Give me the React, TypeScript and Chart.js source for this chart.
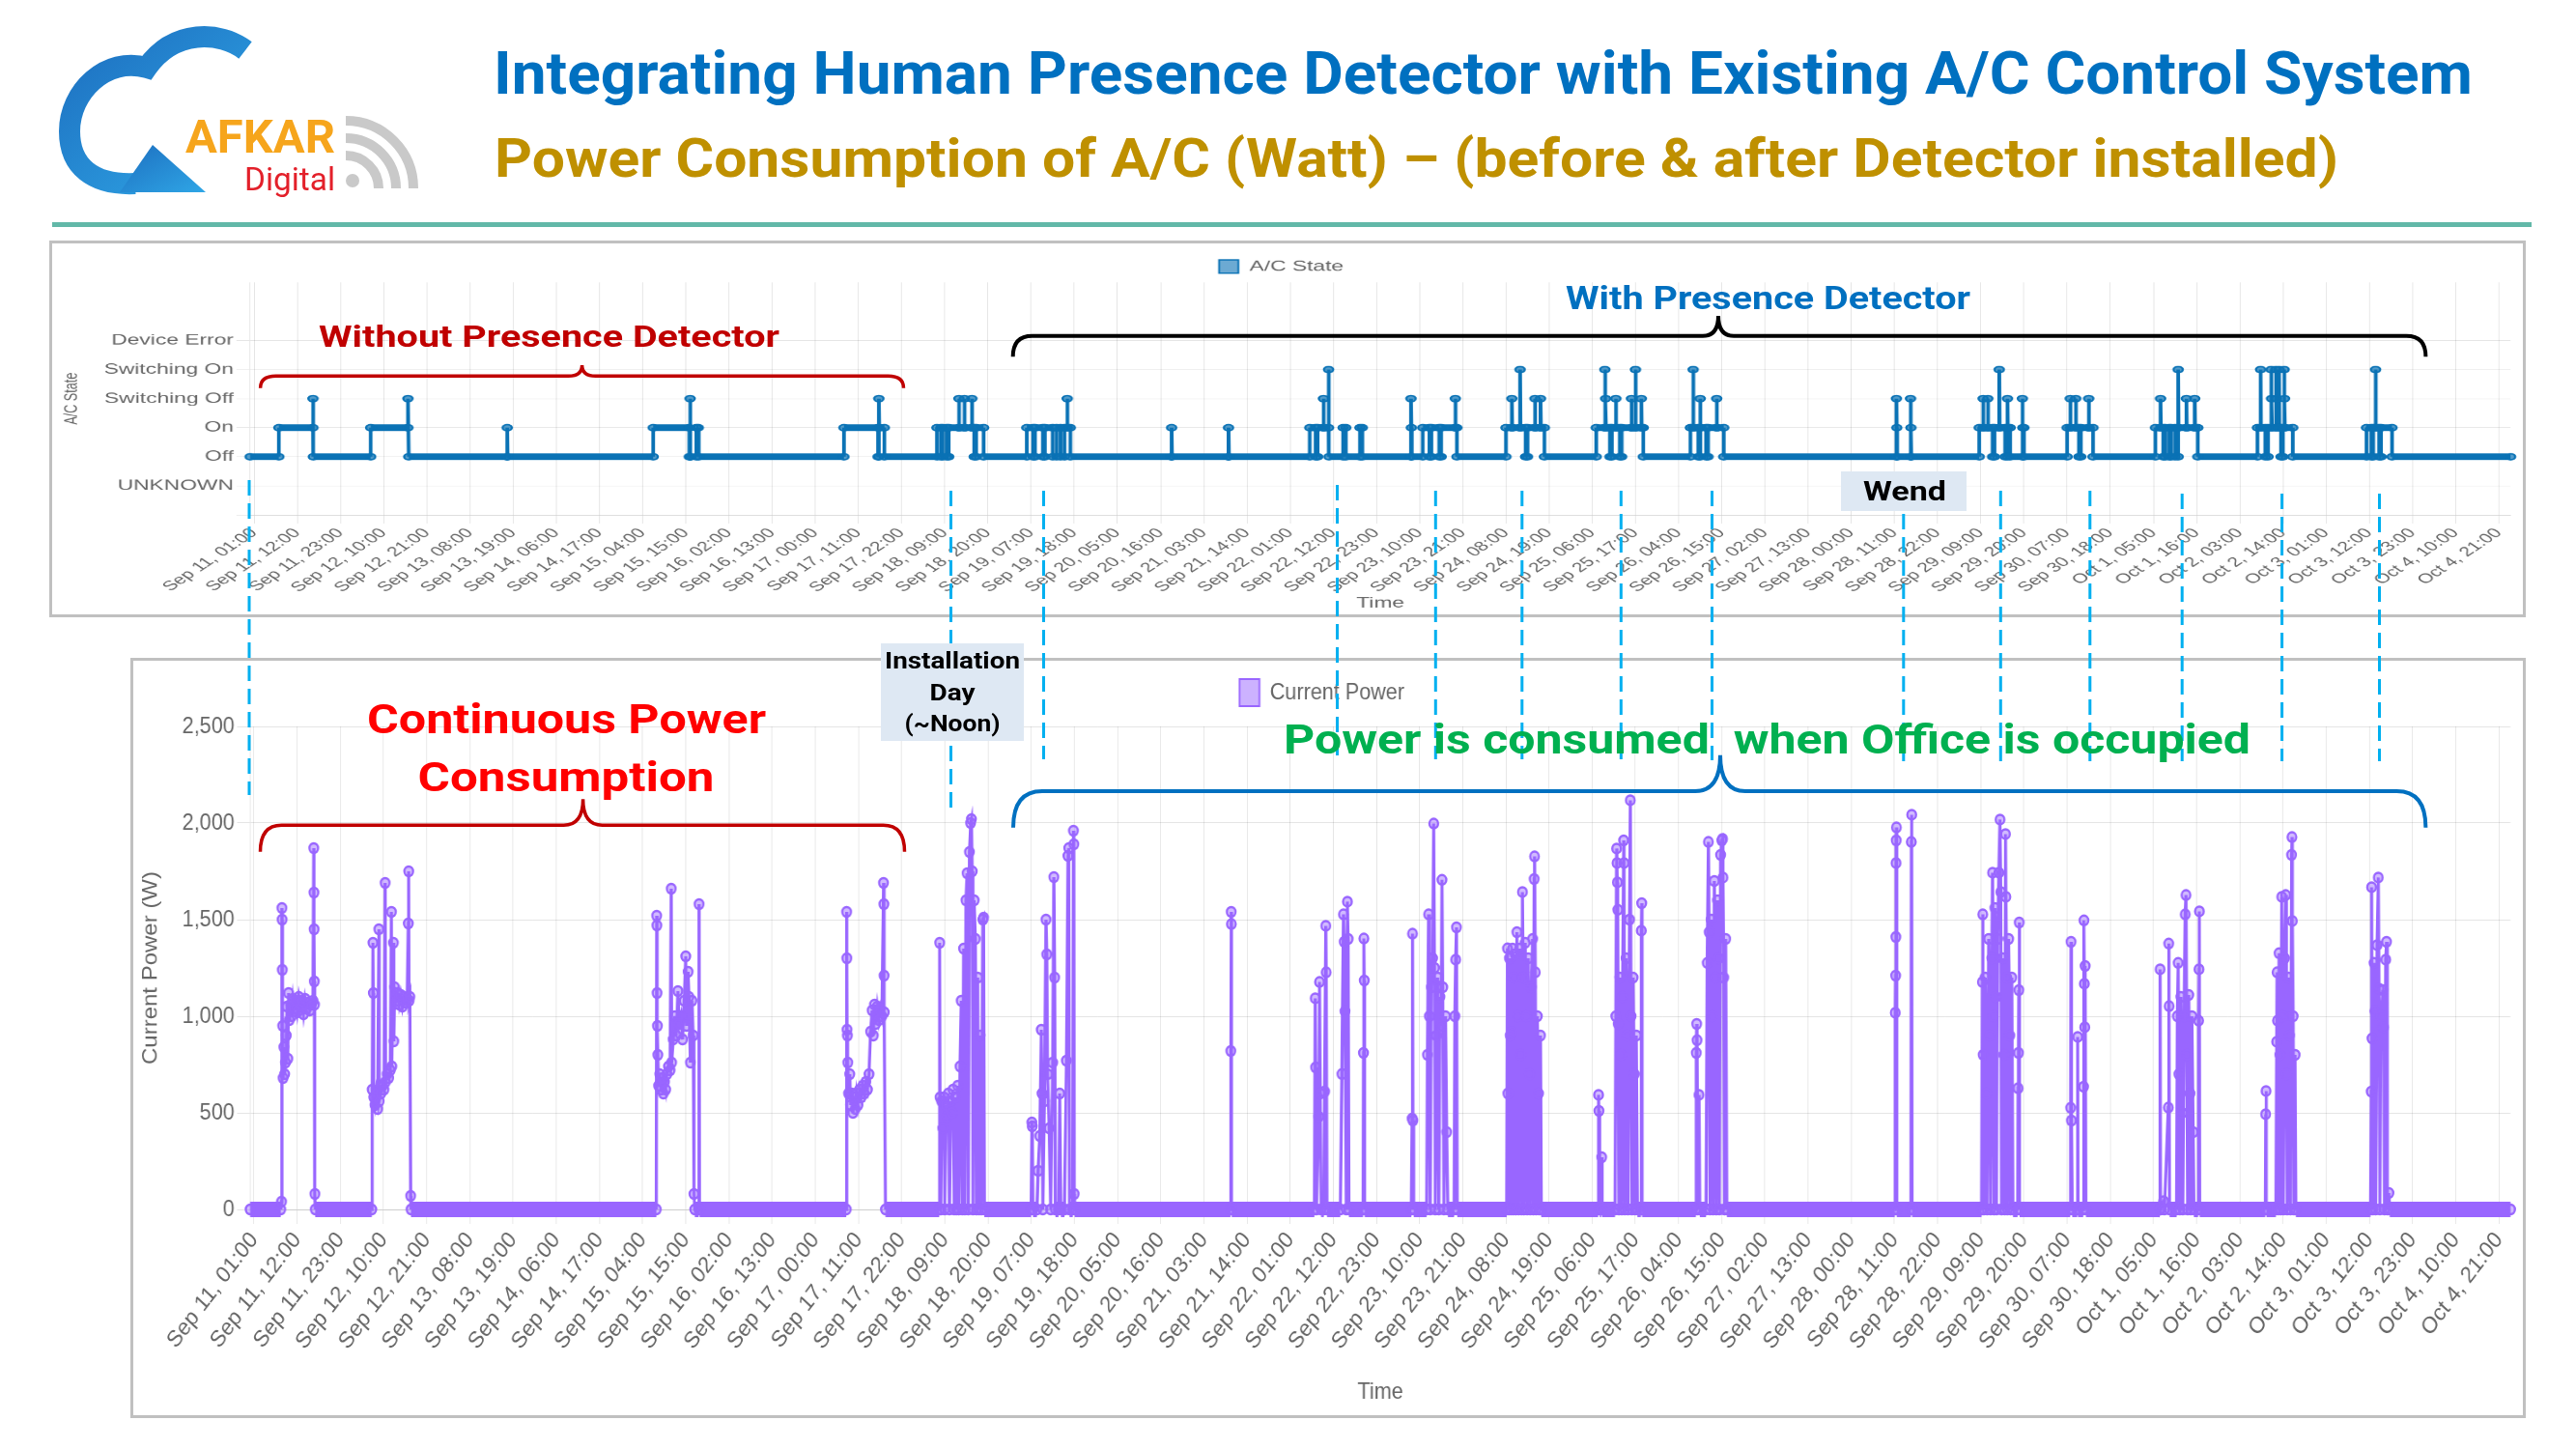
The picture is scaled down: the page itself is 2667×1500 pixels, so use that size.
import React, { useEffect, useRef } from 'react';
import { Chart, registerables } from 'chart.js';

Chart.register(...registerables);
Chart.defaults.font.family = "'Liberation Sans', Arial, Helvetica, sans-serif";
Chart.defaults.color = '#666666';

// ---------------- data ----------------
// x values are hours after "Sep 11, 01:00"
const timeTickLabels = [
  'Sep 11, 01:00', 'Sep 11, 12:00', 'Sep 11, 23:00', 'Sep 12, 10:00', 'Sep 12, 21:00',
  'Sep 13, 08:00', 'Sep 13, 19:00', 'Sep 14, 06:00', 'Sep 14, 17:00', 'Sep 15, 04:00',
  'Sep 15, 15:00', 'Sep 16, 02:00', 'Sep 16, 13:00', 'Sep 17, 00:00', 'Sep 17, 11:00',
  'Sep 17, 22:00', 'Sep 18, 09:00', 'Sep 18, 20:00', 'Sep 19, 07:00', 'Sep 19, 18:00',
  'Sep 20, 05:00', 'Sep 20, 16:00', 'Sep 21, 03:00', 'Sep 21, 14:00', 'Sep 22, 01:00',
  'Sep 22, 12:00', 'Sep 22, 23:00', 'Sep 23, 10:00', 'Sep 23, 21:00', 'Sep 24, 08:00',
  'Sep 24, 19:00', 'Sep 25, 06:00', 'Sep 25, 17:00', 'Sep 26, 04:00', 'Sep 26, 15:00',
  'Sep 27, 02:00', 'Sep 27, 13:00', 'Sep 28, 00:00', 'Sep 28, 11:00', 'Sep 28, 22:00',
  'Sep 29, 09:00', 'Sep 29, 20:00', 'Sep 30, 07:00', 'Sep 30, 18:00', 'Oct 1, 05:00',
  'Oct 1, 16:00', 'Oct 2, 03:00', 'Oct 2, 14:00', 'Oct 3, 01:00', 'Oct 3, 12:00',
  'Oct 3, 23:00', 'Oct 4, 10:00', 'Oct 4, 21:00',
];
const TICK_STEP_HOURS = 11;
const HOURS_MIN = -1;
const HOURS_MAX = 575;

const stateLabels = ['UNKNOWN', 'Off', 'On', 'Switching Off', 'Switching On', 'Device Error'];
const stateTickValues = [-1, 0, 1, 2, 3, 4, 5];

type P = [number, number];

// A/C state (0 UNKNOWN, 1 Off, 2 On, 3 Switching Off, 4 Switching On, 5 Device Error)
const stateBefore: P[] = [
  [-1, 1], [6.3, 1], [6.3, 2], [15.0, 2], [15.0, 3], [15.1, 1], [29.7, 1], [29.7, 2], [39.2, 2], [39.2, 3],
  [39.4, 1], [64.4, 1], [64.5, 2], [64.6, 1], [101.7, 1], [101.7, 2], [110.9, 2], [110.9, 1], [111.1, 1],
  [111.1, 3], [111.2, 1], [112.7, 1], [112.7, 2], [113.2, 2], [113.3, 1], [150.3, 1], [150.3, 2], [159.0, 2],
  [159.0, 1], [159.2, 1], [159.2, 3], [159.3, 2], [160.6, 2], [160.6, 1], [174.0, 1],
];
const stateInstallDay: P[] = [
  [174.0, 2], [175.0, 2], [175.0, 1], [175.5, 1], [175.5, 2], [176.5, 2], [176.5, 1], [177.0, 1], [177.0, 2],
  [179.6, 2], [179.6, 3], [179.7, 2], [181.0, 2], [181.0, 3], [181.1, 2], [182.9, 2], [182.9, 3], [183.0, 2],
  [183.5, 2], [183.5, 1], [184.0, 1], [184.0, 2], [185.9, 2], [185.9, 1],
];
const stateSep19to23: P[] = [
  [196.9, 1], [196.9, 2], [198.5, 2], [198.5, 1], [199.0, 1], [199.0, 2], [201.0, 2], [201.0, 1], [201.5, 1],
  [201.5, 2], [203.5, 2], [203.5, 1], [204.5, 1], [204.5, 2], [205.5, 2], [205.5, 1], [206.5, 1], [206.5, 2],
  [207.2, 2], [207.2, 3], [207.3, 2], [208.0, 2], [208.0, 1], [233.7, 1], [233.8, 2], [233.9, 1], [248.2, 1],
  [248.3, 2], [248.4, 1], [269.0, 1], [269.0, 2], [270.5, 2], [270.5, 1], [271.0, 1], [271.0, 2], [272.5, 2],
  [272.5, 3], [272.6, 2], [273.8, 2], [273.8, 4], [273.9, 1], [277.5, 1], [277.5, 2], [278.2, 2], [278.2, 1],
  [281.8, 1], [281.8, 2], [282.4, 2], [282.4, 1], [294.8, 1], [294.8, 3], [294.9, 2], [295.0, 1], [297.8, 1],
  [297.8, 2], [299.5, 2], [299.5, 1], [300.0, 1], [300.0, 2], [302.0, 2], [302.0, 1], [302.5, 1], [302.5, 2],
  [306.1, 2], [306.1, 3], [306.2, 2], [306.5, 2], [306.5, 1],
];
const stateSep24to28: P[] = [
  [319.0, 1], [319.0, 2], [320.5, 2], [320.5, 3], [320.6, 2], [322.6, 2], [322.6, 4], [322.7, 2], [324.0, 2],
  [324.0, 1], [324.5, 1], [324.5, 2], [326.4, 2], [326.4, 3], [326.5, 2], [327.8, 2], [327.8, 3], [327.9, 2],
  [328.8, 2], [328.8, 1], [342.0, 1], [342.0, 2], [344.2, 2], [344.2, 4], [344.3, 2], [344.4, 3], [344.5, 2],
  [345.5, 2], [345.5, 1], [346.0, 1], [346.0, 2], [347.0, 2], [347.0, 3], [347.1, 2], [348.0, 2], [348.0, 1],
  [348.5, 1], [348.5, 2], [351.0, 2], [351.0, 3], [351.1, 2], [352.0, 2], [352.0, 4], [352.1, 2], [353.5, 2],
  [353.5, 3], [353.6, 2], [354.0, 2], [354.0, 1], [366.0, 1], [366.0, 2], [366.7, 2], [366.7, 4], [366.8, 2],
  [368.0, 2], [368.0, 1], [368.5, 1], [368.5, 3], [368.6, 2], [370.0, 2], [370.0, 1], [370.5, 1], [370.5, 2],
  [372.7, 2], [372.7, 3], [372.8, 2], [374.5, 2], [374.5, 1], [418.5, 1], [418.5, 3], [418.6, 2], [418.7, 1],
  [422.1, 1], [422.1, 3], [422.2, 2], [422.3, 1],
];
const stateSep29toOct4: P[] = [
  [439.6, 1], [439.6, 2], [440.6, 2], [440.6, 3], [440.7, 2], [441.8, 2], [441.8, 3], [441.9, 2], [443.0, 2],
  [443.0, 1], [443.5, 1], [443.5, 2], [444.7, 2], [444.7, 4], [444.8, 2], [446.2, 2], [446.2, 1], [446.8, 1],
  [446.8, 3], [446.9, 2], [447.5, 2], [447.5, 1], [450.6, 1], [450.6, 3], [450.7, 2], [451.0, 2], [451.0, 1],
  [462.0, 1], [462.0, 2], [462.8, 2], [462.8, 3], [462.9, 2], [464.2, 2], [464.2, 3], [464.3, 2], [465.0, 2],
  [465.0, 1], [465.5, 1], [465.5, 2], [467.5, 2], [467.5, 3], [467.6, 2], [468.6, 2], [468.6, 1], [484.5, 1],
  [484.5, 2], [485.8, 2], [485.8, 3], [485.9, 2], [486.5, 2], [486.5, 1], [487.0, 1], [487.0, 2], [488.0, 2],
  [488.0, 1], [488.5, 1], [488.5, 2], [489.5, 2], [489.5, 1], [490.3, 1], [490.3, 4], [490.4, 2], [492.4, 2],
  [492.4, 3], [492.5, 2], [494.5, 2], [494.5, 3], [494.6, 2], [495.3, 2], [495.3, 1], [510.5, 1], [510.5, 2],
  [511.3, 2], [511.3, 4], [511.4, 2], [512.5, 2], [512.5, 1], [513.2, 1], [513.2, 2], [514.0, 2], [514.0, 4],
  [514.1, 3], [514.2, 2], [515.2, 2], [515.2, 4], [515.3, 3], [515.4, 2], [516.0, 2], [516.0, 4], [516.1, 2],
  [516.5, 2], [516.5, 1], [517.0, 1], [517.0, 2], [517.3, 2], [517.3, 4], [517.4, 3], [517.5, 2], [519.5, 2],
  [519.5, 1], [538.3, 1], [538.3, 2], [539.5, 2], [539.5, 1], [540.0, 1], [540.0, 2], [540.6, 2], [540.6, 4],
  [540.7, 2], [541.5, 2], [541.5, 1], [542.0, 1], [542.0, 2], [544.8, 2], [544.8, 1], [575, 1],
];

// Current power (W)
const powerSep11: P[] = [
  [-1, 0], [6.8, 0], [7.0, 40], [7.1, 1560], [7.15, 1500], [7.2, 1240], [7.3, 950], [7.4, 680], [7.6, 840],
  [7.8, 700], [8.0, 760], [8.2, 900], [8.4, 1050], [8.6, 780], [8.8, 1120], [9.0, 980], [9.3, 1060], [9.6, 1000],
  [9.9, 1090], [10.2, 1040], [10.6, 1080], [11.0, 1020], [11.4, 1100], [11.8, 1050], [12.2, 1080], [12.6, 1010],
  [13.0, 1090], [13.4, 1040], [13.8, 1070], [14.2, 1030], [14.6, 1060], [15.0, 1080], [15.2, 1870], [15.25, 1640],
  [15.3, 1450], [15.35, 1180], [15.4, 1060], [15.5, 80], [15.6, 0],
];
const powerSep12: P[] = [
  [30.0, 0], [30.1, 620], [30.3, 1380], [30.4, 1120], [30.5, 580], [30.8, 540], [31.1, 600], [31.5, 520],
  [31.8, 1450], [31.9, 560], [32.3, 600], [32.7, 640], [33.1, 620], [33.4, 1690], [33.5, 660], [33.9, 700],
  [34.3, 680], [34.7, 720], [35.0, 1540], [35.1, 740], [35.5, 1380], [35.6, 870], [35.8, 1150], [36.2, 1080],
  [36.6, 1120], [37.0, 1060], [37.4, 1110], [37.8, 1050], [38.2, 1100], [38.6, 1070], [39.0, 1090], [39.3, 1480],
  [39.4, 1750], [39.5, 1080], [39.7, 1100], [39.9, 70], [40.0, 0],
];
const powerSep15: P[] = [
  [102.5, 0], [102.6, 1520], [102.65, 1470], [102.7, 1120], [102.8, 950], [102.9, 800], [103.1, 640], [103.4, 700],
  [103.7, 620], [104.0, 680], [104.3, 600], [104.6, 660], [104.9, 620], [105.2, 700], [105.6, 740], [106.0, 720],
  [106.3, 1660], [106.4, 760], [106.8, 880], [107.2, 1000], [107.6, 900], [108.0, 1130], [108.4, 960],
  [108.8, 1000], [109.2, 880], [109.6, 1080], [110.0, 1310], [110.2, 950], [110.6, 1230], [110.8, 1100],
  [111.2, 760], [111.6, 1080], [111.9, 900], [112.1, 80], [112.3, 0], [113.3, 0], [113.4, 1580], [113.5, 0],
];
const powerSep17: P[] = [
  [150.9, 0], [151.0, 1540], [151.05, 1300], [151.1, 930], [151.2, 900], [151.3, 760], [151.5, 600], [151.8, 700],
  [152.0, 540], [152.3, 600], [152.6, 500], [152.9, 580], [153.2, 520], [153.5, 600], [153.9, 540], [154.3, 620],
  [154.7, 580], [155.1, 640], [155.5, 600], [155.9, 660], [156.3, 620], [156.7, 700], [157.1, 920], [157.5, 1030],
  [157.8, 900], [158.1, 1060], [158.4, 960], [158.8, 1050], [159.2, 980], [159.6, 1040], [160.0, 1000],
  [160.4, 1690], [160.5, 1580], [160.55, 1210], [160.6, 1020], [160.9, 0],
];
const powerSep18: P[] = [
  [174.6, 0], [174.7, 1380], [174.8, 580], [175.0, 0], [175.2, 560], [175.5, 420], [175.8, 580], [176.0, 0],
  [176.3, 540], [176.6, 480], [176.9, 600], [177.2, 0], [177.5, 560], [177.8, 500], [178.1, 620], [178.4, 0],
  [178.7, 580], [179.0, 0], [179.3, 640], [179.6, 0], [179.9, 740], [180.2, 1080], [180.5, 0], [180.8, 1350],
  [181.1, 0], [181.4, 1600], [181.7, 1740], [182.0, 0], [182.3, 1850], [182.6, 2000], [182.8, 2020], [183.0, 1750],
  [183.2, 0], [183.5, 1600], [183.8, 1400], [184.1, 0], [184.4, 1200], [184.7, 0], [185.0, 900], [185.3, 0],
  [185.7, 1500], [185.9, 1510], [186.1, 0],
];
const powerSep19: P[] = [
  [198.0, 0], [198.2, 450], [198.3, 430], [198.5, 0], [199.5, 0], [199.8, 200], [200.2, 380], [200.6, 930],
  [200.8, 600], [201.0, 0], [201.4, 560], [201.8, 1500], [202.0, 1320], [202.2, 700], [202.6, 420], [203.0, 0],
  [203.5, 760], [203.8, 1720], [204.0, 1200], [204.2, 0], [205.0, 0], [205.3, 600], [205.6, 0], [206.5, 0],
  [207.0, 770], [207.4, 1830], [207.6, 1870], [207.8, 0], [208.6, 0], [208.8, 1960], [208.9, 1890], [209.0, 80],
  [209.1, 0],
];
const powerSep21: P[] = [[248.8, 0], [248.9, 820], [249.0, 1540], [249.05, 1477], [249.1, 0]];
const powerSep22: P[] = [
  [270.2, 0], [270.4, 1093], [270.5, 735], [270.7, 0], [271.3, 480], [271.5, 1177], [271.7, 600], [271.9, 0],
  [272.6, 0], [272.8, 610], [273.1, 1468], [273.2, 1227], [273.4, 0], [276.8, 0], [277.2, 701], [277.6, 1527],
  [277.8, 1385], [278.0, 1026], [278.3, 0], [278.6, 1593], [278.8, 1400], [279.0, 0], [282.6, 0], [282.7, 810],
  [282.8, 1402], [282.9, 1185], [283.0, 0],
];
const powerSep23: P[] = [
  [294.9, 0], [295.1, 470], [295.2, 1427], [295.3, 460], [295.5, 0], [298.8, 0], [299.0, 800], [299.3, 1527],
  [299.5, 1000], [299.7, 0], [300.0, 1150], [300.3, 1300], [300.6, 1997], [300.8, 1250], [301.0, 0], [301.3, 900],
  [301.6, 1200], [301.9, 0], [302.2, 1100], [302.5, 950], [302.7, 1706], [302.9, 1150], [303.2, 0], [303.6, 1000],
  [303.9, 400], [304.2, 0], [305.8, 0], [306.0, 1000], [306.2, 1293], [306.4, 1460], [306.6, 0],
];
const powerSep24: P[] = [
  [319.2, 0], [319.4, 1351], [319.5, 600], [319.7, 0], [319.9, 1300], [320.1, 900], [320.3, 0], [320.5, 918],
  [320.7, 1350], [320.9, 0], [321.1, 1200], [321.3, 1320], [321.5, 0], [321.8, 1435], [322.0, 1000], [322.2, 0],
  [322.5, 1350], [322.8, 800], [323.0, 0], [323.2, 1643], [323.4, 1200], [323.6, 0], [323.9, 1380], [324.2, 1000],
  [324.4, 0], [324.7, 1300], [325.0, 700], [325.2, 0], [325.5, 1150], [325.8, 1400], [326.0, 0], [326.2, 1710],
  [326.3, 1827], [326.5, 1227], [326.7, 0], [327.0, 1000], [327.3, 600], [327.5, 0], [327.8, 900], [328.0, 0],
];
const powerSep25: P[] = [
  [342.5, 0], [342.6, 593], [342.7, 510], [342.9, 0], [343.3, 0], [343.4, 270], [343.5, 0], [346.8, 0],
  [347.0, 1000], [347.2, 1868], [347.3, 1793], [347.4, 1693], [347.5, 1551], [347.6, 960], [347.8, 0],
  [348.0, 1200], [348.3, 800], [348.5, 0], [348.7, 1100], [349.0, 1910], [349.1, 1793], [349.3, 0], [349.6, 1300],
  [349.9, 900], [350.1, 0], [350.5, 1500], [350.7, 2118], [350.9, 1000], [351.1, 0], [351.4, 1200], [351.7, 700],
  [351.9, 0], [352.2, 900], [352.5, 0], [353.4, 0], [353.5, 1443], [353.6, 1585], [353.7, 0],
];
const powerSep26: P[] = [
  [367.4, 0], [367.5, 810], [367.6, 960], [367.7, 876], [367.9, 0], [368.2, 593], [368.4, 0], [370.0, 0],
  [370.3, 1276], [370.6, 1902], [370.8, 1435], [371.0, 0], [371.3, 1500], [371.6, 1000], [371.8, 0], [372.1, 1700],
  [372.4, 1200], [372.6, 0], [372.9, 1600], [373.2, 1300], [373.4, 0], [373.7, 1835], [374.0, 1910], [374.2, 1918],
  [374.3, 1718], [374.5, 1200], [374.7, 0], [375.0, 1400], [375.3, 0],
];
const powerSep28: P[] = [
  [418.1, 0], [418.2, 1018], [418.3, 1210], [418.35, 1410], [418.4, 1793], [418.45, 1910], [418.5, 1977],
  [418.6, 0], [422.2, 0], [422.3, 1902], [422.4, 2043], [422.5, 0],
];
const powerSep29: P[] = [
  [440.2, 0], [440.4, 1177], [440.5, 1527], [440.6, 800], [440.8, 0], [441.1, 1200], [441.4, 600], [441.6, 0],
  [442.0, 1400], [442.3, 900], [442.5, 0], [442.8, 1300], [443.0, 1743], [443.2, 1000], [443.4, 0], [443.6, 1560],
  [443.8, 1100], [444.0, 0], [444.3, 1400], [444.6, 1743], [444.9, 2018], [445.1, 1643], [445.3, 0], [445.6, 1300],
  [445.9, 800], [446.1, 0], [446.3, 1943], [446.4, 1618], [446.6, 1200], [446.8, 0], [447.1, 1400], [447.4, 900],
  [447.6, 0], [447.9, 1200], [448.2, 0], [449.4, 0], [449.5, 627], [449.6, 810], [449.7, 1135], [449.8, 1485],
  [449.9, 0],
];
const powerSep30: P[] = [
  [462.8, 0], [462.9, 526], [463.0, 1385], [463.1, 460], [463.3, 0], [464.6, 0], [464.7, 893], [464.8, 0],
  [466.1, 0], [466.2, 635], [466.3, 1496], [466.4, 1168], [466.5, 943], [466.6, 1260], [466.8, 0],
];
const powerOct1: P[] = [
  [485.6, 0], [485.7, 1243], [485.8, 0], [486.6, 43], [486.8, 0], [487.8, 527], [487.9, 1376], [488.0, 1052],
  [488.1, 0], [489.9, 0], [490.1, 1000], [490.3, 1276], [490.5, 700], [490.7, 0], [491.0, 1100], [491.3, 500],
  [491.5, 0], [491.8, 1000], [492.1, 1527], [492.3, 1627], [492.5, 800], [492.7, 0], [493.0, 1110], [493.3, 600],
  [493.5, 0], [493.8, 1000], [494.1, 400], [494.3, 0], [495.4, 0], [495.5, 977], [495.6, 1243], [495.7, 1543],
  [495.8, 0],
];
const powerOct2: P[] = [
  [512.5, 0], [512.6, 493], [512.7, 613], [512.8, 0], [515.2, 0], [515.4, 868], [515.5, 1227], [515.6, 977],
  [515.8, 0], [516.0, 1326], [516.2, 800], [516.4, 0], [516.7, 1618], [516.9, 1000], [517.1, 0], [517.4, 1300],
  [517.7, 1627], [517.9, 700], [518.1, 0], [518.4, 1200], [518.7, 900], [518.9, 0], [519.2, 1835], [519.3, 1927],
  [519.4, 1493], [519.6, 1000], [519.8, 0], [520.1, 800], [520.3, 0],
];
const powerOct3: P[] = [
  [539.3, 0], [539.5, 610], [539.6, 1668], [539.7, 885], [539.9, 0], [540.2, 1276], [540.4, 1027], [540.6, 0],
  [541.0, 1368], [541.3, 1718], [541.5, 1143], [541.7, 0], [542.0, 1000], [542.5, 1135], [542.7, 943], [542.9, 0],
  [543.2, 1293], [543.4, 1385], [543.6, 0], [544.0, 85], [544.2, 0], [575, 0],
];

const acStateSeries: P[] = [...stateBefore, ...stateInstallDay, ...stateSep19to23, ...stateSep24to28, ...stateSep29toOct4];
const powerSeries: P[] = [
  ...powerSep11, ...powerSep12, ...powerSep15, ...powerSep17, ...powerSep18, ...powerSep19, ...powerSep21,
  ...powerSep22, ...powerSep23, ...powerSep24, ...powerSep25, ...powerSep26, ...powerSep28, ...powerSep29,
  ...powerSep30, ...powerOct1, ...powerOct2, ...powerOct3,
];

// ---------------- styles ----------------
const STATE_BLUE = '#0A72B5';
const POWER_PURPLE = '#9966FF';

const legendSpacer = {
  id: 'legendSpacer',
  beforeLayout(chart: any, _args: any, opts: any) {
    const lg = chart.legend;
    if (lg && !lg.__spaced) {
      const orig = lg.fit;
      lg.fit = function () {
        orig.call(this);
        this.height += opts.extra || 0;
      };
      lg.__spaced = true;
    }
  },
};

const thinLegendBorder = (chart: any) =>
  (Chart.defaults.plugins.legend.labels.generateLabels as any)(chart).map((it: any) => ({ ...it, lineWidth: 2 }));

const timeAxis = (fontSize: number, rotation: number, tickLength: number, height: number, titlePad: number) => ({
  type: 'linear',
  min: HOURS_MIN,
  max: HOURS_MAX,
  afterBuildTicks: (s: any) => {
    s.ticks = timeTickLabels.map((_, i) => ({ value: i * TICK_STEP_HOURS }));
  },
  afterFit: (s: any) => {
    s.height = height;
  },
  ticks: {
    autoSkip: false,
    minRotation: rotation,
    maxRotation: rotation,
    font: { size: fontSize },
    callback: (v: number) => timeTickLabels[Math.round(v / TICK_STEP_HOURS)] ?? '',
  },
  grid: { tickLength },
  title: { display: true, text: 'Time', font: { size: 24 }, padding: { top: 4, bottom: titlePad } },
});

function stateConfig(): any {
  return {
    type: 'line',
    data: {
      datasets: [
        {
          label: 'A/C State',
          data: acStateSeries.map(([x, y]) => ({ x, y })),
          borderColor: STATE_BLUE,
          backgroundColor: 'rgba(10,114,181,0.6)',
          borderWidth: 4,
          pointRadius: 5,
          pointBorderWidth: 2.5,
          pointBackgroundColor: 'rgba(10,114,181,0.7)',
          pointBorderColor: STATE_BLUE,
          tension: 0,
          clip: false,
          segment: {
            borderWidth: (c: any) => (c.p0.parsed.y === c.p1.parsed.y ? 11 : 4),
          },
        },
      ],
    },
    options: {
      animation: false,
      responsive: true,
      maintainAspectRatio: false,
      devicePixelRatio: 1,
      events: [],
      layout: { padding: { left: 0, right: 13.8, top: 0, bottom: 0 } },
      plugins: {
        legend: {
          labels: { font: { size: 24 }, boxWidth: 21, boxHeight: 22, padding: 26, generateLabels: thinLegendBorder },
        },
        legendSpacer: { extra: 4 },
        tooltip: { enabled: false },
      },
      scales: {
        x: timeAxis(22, 45, 14, 164, 4),
        y: {
          min: -1,
          max: 7,
          afterBuildTicks: (s: any) => {
            s.ticks = stateTickValues.map((v) => ({ value: v }));
          },
          afterFit: (s: any) => {
            s.width = 215.8;
          },
          ticks: { autoSkip: false, font: { size: 24 }, callback: (v: number) => stateLabels[v] ?? '' },
          grid: { tickLength: 15 },
          title: { display: true, text: 'A/C State', font: { size: 20 }, padding: { top: 9, bottom: 4 } },
        },
      },
    },
    plugins: [legendSpacer],
  };
}

function powerConfig(): any {
  return {
    type: 'line',
    data: {
      datasets: [
        {
          label: 'Current Power',
          data: powerSeries.map(([x, y]) => ({ x, y })),
          borderColor: POWER_PURPLE,
          backgroundColor: 'rgba(153,102,255,0.5)',
          borderWidth: 3.5,
          pointRadius: 5,
          pointBorderWidth: 2.5,
          pointBackgroundColor: 'rgba(153,102,255,0.45)',
          pointBorderColor: POWER_PURPLE,
          tension: 0,
          clip: false,
          segment: {
            borderWidth: (c: any) => (c.p0.parsed.y === 0 && c.p1.parsed.y === 0 ? 16 : 3.5),
          },
        },
      ],
    },
    options: {
      animation: false,
      responsive: true,
      maintainAspectRatio: false,
      devicePixelRatio: 1,
      events: [],
      layout: { padding: { left: 0, right: 14.3, top: 0, bottom: 0 } },
      plugins: {
        legend: {
          labels: { font: { size: 24 }, boxWidth: 23, boxHeight: 28, padding: 18, generateLabels: thinLegendBorder },
        },
        legendSpacer: { extra: 11 },
        tooltip: { enabled: false },
      },
      scales: {
        x: timeAxis(24, 50, 15, 213, 9),
        y: {
          min: 0,
          max: 2500,
          afterFit: (s: any) => {
            s.width = 134.4;
          },
          ticks: { stepSize: 500, font: { size: 24 } },
          grid: { tickLength: 15 },
          title: { display: true, text: 'Current Power (W)', font: { size: 24 }, padding: { top: 6, bottom: 4 } },
        },
      },
    },
    plugins: [legendSpacer],
  };
}

function ChartBox(props: { make: () => any; left: number; top: number; width: number; height: number; sx: number; sy: number }) {
  const ref = useRef<HTMLCanvasElement>(null);
  useEffect(() => {
    const chart = new Chart(ref.current as HTMLCanvasElement, props.make());
    return () => chart.destroy();
  }, []);
  return (
    <div
      style={{
        position: 'absolute',
        left: props.left,
        top: props.top,
        width: props.width,
        height: props.height,
        transform: `scale(${props.sx}, ${props.sy})`,
        transformOrigin: '0 0',
      }}
    >
      <canvas ref={ref} style={{ display: 'block' }} />
    </div>
  );
}

const brace = (x1: number, x2: number, xm: number, yb: number, ye: number, yp: number, r = 22, rp = 24) =>
  `M ${x1} ${ye} Q ${x1} ${yb} ${x1 + r} ${yb} L ${xm - rp} ${yb} Q ${xm} ${yb} ${xm} ${yp} ` +
  `Q ${xm} ${yb} ${xm + rp} ${yb} L ${x2 - r} ${yb} Q ${x2} ${yb} ${x2} ${ye}`;

const dashedGuides: [number, number, number][] = [
  [258, 497, 823], [984.5, 508, 837], [1080.5, 508, 786], [1384.5, 502, 786], [1486.3, 508, 786],
  [1575.8, 508, 786], [1678.3, 508, 786], [1772.5, 508, 787], [1970.8, 508, 788], [2071.3, 508, 788],
  [2163.8, 508, 788], [2259.2, 511, 788], [2362.6, 511, 788], [2463.5, 511, 788],
];

const TXT = "Roboto, 'Liberation Sans', Arial, sans-serif";

function Overlay() {
  return (
    <svg width={2667} height={1500} style={{ position: 'absolute', left: 0, top: 0, pointerEvents: 'none' }}>
      <defs>
        <linearGradient id="logoGrad" x1="0" y1="0" x2="1" y2="1">
          <stop offset="0" stopColor="#1D6FC0" />
          <stop offset="1" stopColor="#2FA6E6" />
        </linearGradient>
      </defs>
      {/* logo */}
      <path
        d="M 254 52 C 228 32 180 30 152 70 C 110 58 72 95 72 136 C 72 172 96 192 140 190"
        fill="none"
        stroke="url(#logoGrad)"
        strokeWidth={22}
        strokeLinecap="butt"
      />
      <polygon points="158,150 213,199 124,199" fill="url(#logoGrad)" />
      <text x={192} y={158} fontSize={48} fontWeight={700} fill="#F6A51C" fontFamily={TXT} textLength={155} lengthAdjust="spacingAndGlyphs">AFKAR</text>
      <text x={253} y={197} fontSize={34} fontWeight={400} fill="#E3202A" fontFamily={TXT} textLength={94} lengthAdjust="spacingAndGlyphs">Digital</text>
      <g fill="none" stroke="#C9C9C9" strokeWidth={10}>
        <path d="M 358 161 A 34 34 0 0 1 392 195" />
        <path d="M 358 143 A 52 52 0 0 1 410 195" />
        <path d="M 358 125 A 70 70 0 0 1 428 195" />
      </g>
      <circle cx={365} cy={187} r={7} fill="#C9C9C9" />

      {/* titles */}
      <text x={511} y={97} fontSize={62} fontWeight={700} fill="#0070C0" fontFamily={TXT} textLength={2049} lengthAdjust="spacingAndGlyphs">
        Integrating Human Presence Detector with Existing A/C Control System
      </text>
      <text x={512} y={183} fontSize={55} fontWeight={700} fill="#BF9000" fontFamily={TXT} textLength={1909} lengthAdjust="spacingAndGlyphs">
        Power Consumption of A/C (Watt) – (before &amp; after Detector installed)
      </text>
      <rect x={54} y={230} width={2567} height={5} fill="#62B8A8" />

      {/* frames */}
      <rect x={52.5} y={250.5} width={2561} height={387} fill="none" stroke="#C0C0C0" strokeWidth={3} />
      <rect x={136.5} y={682.5} width={2477} height={784} fill="none" stroke="#C0C0C0" strokeWidth={3} />

      {/* dashed guides */}
      <g stroke="#00B0F0" strokeWidth={3} strokeDasharray="16 8">
        {dashedGuides.map(([x, y1, y2], i) => (
          <line key={i} x1={x} y1={y1} x2={x} y2={y2} />
        ))}
      </g>

      {/* top chart annotations */}
      <text x={330} y={359} fontSize={31} fontWeight={700} fill="#C00000" fontFamily={TXT} textLength={477} lengthAdjust="spacingAndGlyphs">
        Without Presence Detector
      </text>
      <path d={brace(269.6, 935.5, 602.6, 389.3, 401.7, 378, 16, 14)} fill="none" stroke="#C00000" strokeWidth={3.5} />
      <text x={1621} y={320} fontSize={33} fontWeight={700} fill="#0070C0" fontFamily={TXT} textLength={419} lengthAdjust="spacingAndGlyphs">
        With Presence Detector
      </text>
      <path d={brace(1048.7, 2511.4, 1779, 347.7, 369.3, 327, 20, 16)} fill="none" stroke="#000000" strokeWidth={4} />
      <rect x={1906} y={488} width={130} height={41} fill="#DEE8F3" />
      <text x={1929} y={518} fontSize={28} fontWeight={700} fill="#000000" fontFamily={TXT} textLength={86} lengthAdjust="spacingAndGlyphs">
        Wend
      </text>

      {/* bottom chart annotations */}
      <rect x={912} y={666} width={148} height={101} fill="#DEE8F3" />
      <g fontSize={23} fontWeight={700} fill="#000000" fontFamily={TXT} textAnchor="middle">
        <text x={986} y={692} textLength={140} lengthAdjust="spacingAndGlyphs">Installation</text>
        <text x={986} y={725} textLength={47} lengthAdjust="spacingAndGlyphs">Day</text>
        <text x={986} y={757} textLength={99} lengthAdjust="spacingAndGlyphs">(~Noon)</text>
      </g>
      <text x={380} y={759} fontSize={43} fontWeight={700} fill="#FF0000" fontFamily={TXT} textLength={413} lengthAdjust="spacingAndGlyphs">
        Continuous Power
      </text>
      <text x={432.5} y={819} fontSize={43} fontWeight={700} fill="#FF0000" fontFamily={TXT} textLength={307} lengthAdjust="spacingAndGlyphs">
        Consumption
      </text>
      <path d={brace(269.5, 936.5, 603.6, 854.3, 881.7, 827.3, 22, 20)} fill="none" stroke="#C00000" strokeWidth={3.5} />
      <text x={1329} y={780} fontSize={43} fontWeight={700} fill="#00B050" fontFamily={TXT} textLength={1001} lengthAdjust="spacingAndGlyphs" style={{ whiteSpace: 'pre' }}>
        {'Power is consumed  when Office is occupied'}
      </text>
      <path d={brace(1049, 2511.4, 1781, 819, 856.7, 781.7, 30, 26)} fill="none" stroke="#0070C0" strokeWidth={4} />
    </svg>
  );
}

export default function App() {
  return (
    <div style={{ position: 'absolute', left: 0, top: 0, width: 2667, height: 1500, background: '#ffffff', overflow: 'hidden' }}>
      <ChartBox make={stateConfig} left={54} top={252} width={2693} height={610} sx={0.95} sy={0.63} />
      <ChartBox make={powerConfig} left={138} top={685} width={2749} height={780} sx={0.9} sy={1} />
      <Overlay />
    </div>
  );
}
